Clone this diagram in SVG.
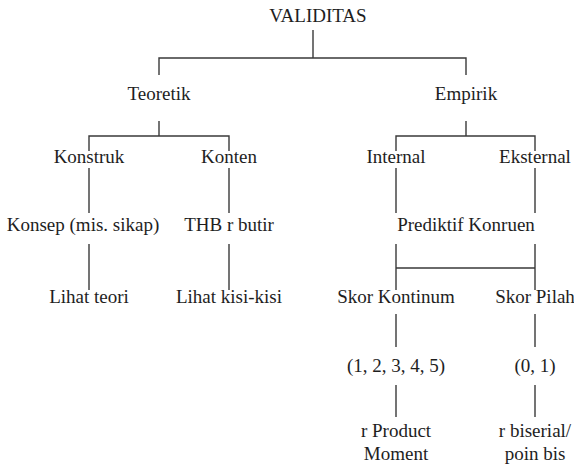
<svg xmlns="http://www.w3.org/2000/svg" width="574" height="464" viewBox="0 0 574 464">
  <style>
    .lbl { font-size: 19px; fill: #1e1e1e; text-anchor: middle; }
    .edge { stroke: #3a3a3a; stroke-width: 1.4; fill: none; }
  </style>
  <rect width="574" height="464" fill="#ffffff"/>

  <g id="connectors">
    <!-- VALIDITAS split -->
    <path class="edge" d="M313 30 V58 M159 75 V58 H466 V75"/>
    <!-- Teoretik split -->
    <path class="edge" d="M159 121 V136 M89 151 V136 H229 V151"/>
    <!-- Empirik split -->
    <path class="edge" d="M466 121 V136 M396 151 V136 H535 V151"/>
    <!-- row 2 to row 3 -->
    <path class="edge" d="M89 168 V213 M229 168 V213 M396 168 V213 M535 168 V213"/>
    <!-- row 3 to row 4 -->
    <path class="edge" d="M89 244 V290 M229 244 V290 M396 244 V290 M535 244 V290 M396 268 H535"/>
    <!-- row 4 to row 5 -->
    <path class="edge" d="M396 314 V347 M535 314 V347"/>
    <!-- row 5 to row 6 -->
    <path class="edge" d="M396 385 V417 M535 385 V417"/>
  </g>

  <g font-family="Liberation Serif, Times New Roman, serif">
    <g id="validitas"><text class="lbl" x="318" y="22">VALIDITAS</text></g>
    <g id="teoretik"><text class="lbl" x="159" y="100">Teoretik</text></g>
    <g id="empirik"><text class="lbl" x="466" y="100">Empirik</text></g>
    <g id="konstruk"><text class="lbl" x="89" y="163">Konstruk</text></g>
    <g id="konten"><text class="lbl" x="229" y="163">Konten</text></g>
    <g id="internal"><text class="lbl" x="396" y="163">Internal</text></g>
    <g id="eksternal"><text class="lbl" x="535" y="163">Eksternal</text></g>
    <g id="konsep"><text class="lbl" x="83" y="231">Konsep (mis. sikap)</text></g>
    <g id="thb"><text class="lbl" x="229" y="231">THB r butir</text></g>
    <g id="prediktif"><text class="lbl" x="466" y="231">Prediktif Konruen</text></g>
    <g id="lihat-teori"><text class="lbl" x="89" y="303">Lihat teori</text></g>
    <g id="lihat-kisi"><text class="lbl" x="229" y="303">Lihat kisi-kisi</text></g>
    <g id="skor-kontinum"><text class="lbl" x="396" y="303">Skor Kontinum</text></g>
    <g id="skor-pilah"><text class="lbl" x="535" y="303">Skor Pilah</text></g>
    <g id="skala-kontinum"><text class="lbl" x="396" y="372">(1, 2, 3, 4, 5)</text></g>
    <g id="skala-pilah"><text class="lbl" x="535" y="372">(0, 1)</text></g>
    <g id="product-moment">
      <text class="lbl" x="396" y="437">r Product</text>
      <text class="lbl" x="396" y="460">Moment</text>
    </g>
    <g id="biserial">
      <text class="lbl" x="535" y="437">r biserial/</text>
      <text class="lbl" x="535" y="460">poin bis</text>
    </g>
  </g>
</svg>
